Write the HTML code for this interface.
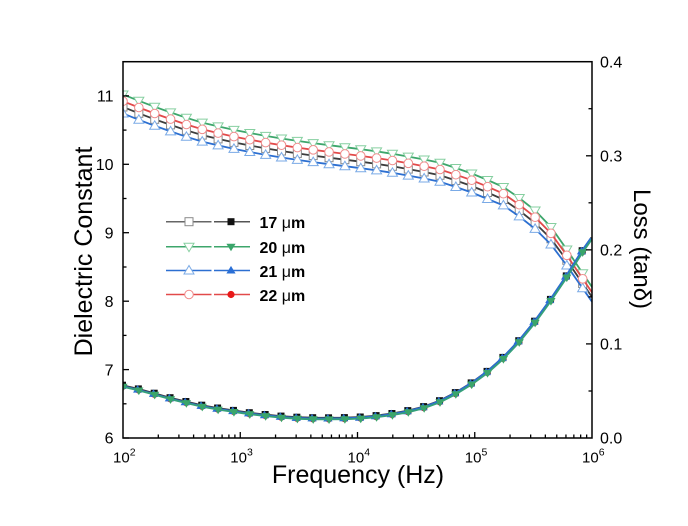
<!DOCTYPE html>
<html>
<head>
<meta charset="utf-8">
<style>
  html, body { margin:0; padding:0; background:#ffffff; }
  svg { display:block; }
  text { font-family: "Liberation Sans", Arial, sans-serif; fill:#000; }
</style>
</head>
<body>
<svg width="688" height="526" viewBox="0 0 688 526" xmlns="http://www.w3.org/2000/svg">
  <defs>
    <clipPath id="plot"><rect x="123" y="61.7" width="469" height="376.3"/></clipPath>
    <!-- open markers -->
    <marker id="oSq" markerUnits="userSpaceOnUse" markerWidth="20" markerHeight="20" refX="0" refY="0" viewBox="-10 -10 20 20" overflow="visible">
      <rect x="-4" y="-4" width="8" height="8" fill="#fff" stroke="#8a8a8a" stroke-width="1"/>
    </marker>
    <marker id="oDn" markerUnits="userSpaceOnUse" markerWidth="20" markerHeight="20" refX="0" refY="0" viewBox="-10 -10 20 20" overflow="visible">
      <polygon points="-5,-3.5 5,-3.5 0,5" fill="#fff" stroke="#86cfa0" stroke-width="1"/>
    </marker>
    <marker id="oUp" markerUnits="userSpaceOnUse" markerWidth="20" markerHeight="20" refX="0" refY="0" viewBox="-10 -10 20 20" overflow="visible">
      <polygon points="-5,3.5 5,3.5 0,-5" fill="#fff" stroke="#7aaae6" stroke-width="1"/>
    </marker>
    <marker id="oCi" markerUnits="userSpaceOnUse" markerWidth="20" markerHeight="20" refX="0" refY="0" viewBox="-10 -10 20 20" overflow="visible">
      <circle cx="0" cy="0" r="4.3" fill="#fff" stroke="#f08c8c" stroke-width="1"/>
    </marker>
    <!-- filled markers -->
    <marker id="fSq" markerUnits="userSpaceOnUse" markerWidth="20" markerHeight="20" refX="0" refY="0" viewBox="-10 -10 20 20" overflow="visible">
      <rect x="-3.5" y="-3.5" width="7" height="7" fill="#111"/>
    </marker>
    <marker id="fDn" markerUnits="userSpaceOnUse" markerWidth="20" markerHeight="20" refX="0" refY="0" viewBox="-10 -10 20 20" overflow="visible">
      <polygon points="-4.6,-3 4.6,-3 0,4.6" fill="#3aa56a"/>
    </marker>
    <marker id="fUp" markerUnits="userSpaceOnUse" markerWidth="20" markerHeight="20" refX="0" refY="0" viewBox="-10 -10 20 20" overflow="visible">
      <polygon points="-4.6,3 4.6,3 0,-4.6" fill="#2a6fd6"/>
    </marker>
    <marker id="fCi" markerUnits="userSpaceOnUse" markerWidth="20" markerHeight="20" refX="0" refY="0" viewBox="-10 -10 20 20" overflow="visible">
      <circle cx="0" cy="0" r="3.6" fill="#e81818"/>
    </marker>
  </defs>

  <g clip-path="url(#plot)" fill="none" stroke-width="1.8">
    <!-- Dielectric constant curves -->
    <polyline stroke="#3c3c3c" marker-start="url(#oSq)" marker-mid="url(#oSq)"
      points="123,107 138.85,113.3 154.7,119.3 170.55,124.9 186.4,130.3 202.25,135.1 218.1,138.9 233.95,142.4 249.8,145.5 265.65,148.4 281.5,151 297.35,153.4 313.2,155.6 329.05,157.7 344.9,159.7 360.75,161.7 376.6,163.9 392.45,166.3 408.3,169.1 424.15,172 440,175.3 455.85,180.5 471.7,186 487.55,192.5 503.4,199.5 519.25,210.5 535.1,223 550.95,238.8 566.8,260.3 582.65,283.5 592,297"/>
    <polyline stroke="#3da66b" marker-start="url(#oDn)" marker-mid="url(#oDn)"
      points="123,94.5 138.85,100.8 154.7,106.8 170.55,112.4 186.4,117.8 202.25,122.6 218.1,126.4 233.95,129.9 249.8,133 265.65,135.9 281.5,138.5 297.35,140.9 313.2,143.1 329.05,145.2 344.9,147.2 360.75,149.2 376.6,151.4 392.45,153.8 408.3,156.6 424.15,159.5 440,162.8 455.85,168 471.7,173.5 487.55,180 503.4,187 519.25,198 535.1,210.5 550.95,227 566.8,249.5 582.65,273.3 592,287"/>
    <polyline stroke="#2c6fd1" marker-start="url(#oUp)" marker-mid="url(#oUp)"
      points="123,113.5 138.85,119.8 154.7,125.8 170.55,131.4 186.4,136.8 202.25,141.6 218.1,145.4 233.95,148.9 249.8,152 265.65,154.9 281.5,157.5 297.35,159.9 313.2,162.1 329.05,164.2 344.9,166.2 360.75,168.2 376.6,170.4 392.45,172.8 408.3,175.6 424.15,178.5 440,181.8 455.85,187 471.7,192.5 487.55,199 503.4,205.4 519.25,216.4 535.1,228.9 550.95,244.5 566.8,265.5 582.65,288.3 592,301.7"/>
    <polyline stroke="#e24a4a" marker-start="url(#oCi)" marker-mid="url(#oCi)"
      points="123,101.2 138.85,107.5 154.7,113.5 170.55,119.1 186.4,124.5 202.25,129.3 218.1,133.1 233.95,136.6 249.8,139.7 265.65,142.6 281.5,145.2 297.35,147.6 313.2,149.8 329.05,151.9 344.9,153.9 360.75,155.9 376.6,158.1 392.45,160.5 408.3,163.3 424.15,166.2 440,169.5 455.85,174.7 471.7,180.2 487.55,186.7 503.4,193.7 519.25,204.7 535.1,217.2 550.95,233.3 566.8,255.3 582.65,278.8 592,292.4"/>

    <!-- Loss curves -->
    <polyline stroke="#e24a4a" marker-start="url(#fCi)" marker-mid="url(#fCi)" transform="translate(-0.3,-0.5)"
      points="123,386.8 138.85,390.5 154.7,394.8 170.55,399.3 186.4,403.1 202.25,406.8 218.1,409.6 233.95,412 249.8,414.3 265.65,416.1 281.5,417.7 297.35,418.8 313.2,419.3 329.05,419.4 344.9,419.2 360.75,418.6 376.6,417.2 392.45,415.1 408.3,412.2 424.15,408.2 440,402.3 455.85,394.2 471.7,384.5 487.55,373 503.4,359 519.25,342.3 535.1,322.8 550.95,301 566.8,277.5 582.65,252.3 592,239"/>
    <polyline stroke="#3c3c3c" marker-start="url(#fSq)" marker-mid="url(#fSq)" transform="translate(-0.5,-1.6)"
      points="123,386.8 138.85,390.5 154.7,394.8 170.55,399.3 186.4,403.1 202.25,406.8 218.1,409.6 233.95,412 249.8,414.3 265.65,416.1 281.5,417.7 297.35,418.8 313.2,419.3 329.05,419.4 344.9,419.2 360.75,418.6 376.6,417.2 392.45,415.1 408.3,412.2 424.15,408.2 440,402.3 455.85,394.2 471.7,384.5 487.55,373 503.4,359 519.25,342.3 535.1,322.8 550.95,301 566.8,277.5 582.65,252.3 592,239"/>
    <polyline stroke="#2c6fd1" marker-start="url(#fUp)" marker-mid="url(#fUp)" transform="translate(-1.2,-0.9)"
      points="123,386.8 138.85,390.5 154.7,394.8 170.55,399.3 186.4,403.1 202.25,406.8 218.1,409.6 233.95,412 249.8,414.3 265.65,416.1 281.5,417.7 297.35,418.8 313.2,419.3 329.05,419.4 344.9,419.2 360.75,418.6 376.6,417.2 392.45,415.1 408.3,412.2 424.15,408.2 440,402.3 455.85,394.2 471.7,384.5 487.55,373 503.4,359 519.25,342.3 535.1,322.8 550.95,301 566.8,277.5 582.65,252.3 592,239"/>
    <polyline stroke="#35a07a" marker-start="url(#fDn)" marker-mid="url(#fDn)"
      points="123,386.8 138.85,390.5 154.7,394.8 170.55,399.3 186.4,403.1 202.25,406.8 218.1,409.6 233.95,412 249.8,414.3 265.65,416.1 281.5,417.7 297.35,418.8 313.2,419.3 329.05,419.4 344.9,419.2 360.75,418.6 376.6,417.2 392.45,415.1 408.3,412.2 424.15,408.2 440,402.3 455.85,394.2 471.7,384.5 487.55,373 503.4,359 519.25,342.3 535.1,322.8 550.95,301 566.8,277.5 582.65,252.3 592,239"/>
  </g>

  <!-- Frame -->
  <rect x="123" y="61.7" width="469" height="376.3" fill="none" stroke="#000" stroke-width="1.5"/>

  <!-- Ticks -->
  <g stroke="#000" stroke-width="1.3">
    <!-- left major -->
    <line x1="123" y1="438" x2="129" y2="438"/>
    <line x1="123" y1="369.6" x2="129" y2="369.6"/>
    <line x1="123" y1="301.2" x2="129" y2="301.2"/>
    <line x1="123" y1="232.7" x2="129" y2="232.7"/>
    <line x1="123" y1="164.3" x2="129" y2="164.3"/>
    <line x1="123" y1="95.9" x2="129" y2="95.9"/>
    <!-- left minor -->
    <line x1="123" y1="403.8" x2="126.5" y2="403.8"/>
    <line x1="123" y1="335.4" x2="126.5" y2="335.4"/>
    <line x1="123" y1="267" x2="126.5" y2="267"/>
    <line x1="123" y1="198.5" x2="126.5" y2="198.5"/>
    <line x1="123" y1="130.1" x2="126.5" y2="130.1"/>
    <!-- right major -->
    <line x1="592" y1="343.9" x2="586" y2="343.9"/>
    <line x1="592" y1="249.85" x2="586" y2="249.85"/>
    <line x1="592" y1="155.8" x2="586" y2="155.8"/>
    <!-- right minor -->
    <line x1="592" y1="391" x2="588.5" y2="391"/>
    <line x1="592" y1="296.9" x2="588.5" y2="296.9"/>
    <line x1="592" y1="202.8" x2="588.5" y2="202.8"/>
    <line x1="592" y1="108.7" x2="588.5" y2="108.7"/>
    <!-- bottom major -->
    <line x1="240.25" y1="438" x2="240.25" y2="432"/>
    <line x1="357.5" y1="438" x2="357.5" y2="432"/>
    <line x1="474.75" y1="438" x2="474.75" y2="432"/>
    <!-- bottom minor: decade 1 -->
    <line x1="158.3" y1="438" x2="158.3" y2="434.5"/>
    <line x1="178.9" y1="438" x2="178.9" y2="434.5"/>
    <line x1="193.6" y1="438" x2="193.6" y2="434.5"/>
    <line x1="205" y1="438" x2="205" y2="434.5"/>
    <line x1="214.2" y1="438" x2="214.2" y2="434.5"/>
    <line x1="222.1" y1="438" x2="222.1" y2="434.5"/>
    <line x1="228.9" y1="438" x2="228.9" y2="434.5"/>
    <line x1="234.9" y1="438" x2="234.9" y2="434.5"/>
    <!-- decade 2 -->
    <line x1="275.55" y1="438" x2="275.55" y2="434.5"/>
    <line x1="296.15" y1="438" x2="296.15" y2="434.5"/>
    <line x1="310.85" y1="438" x2="310.85" y2="434.5"/>
    <line x1="322.25" y1="438" x2="322.25" y2="434.5"/>
    <line x1="331.45" y1="438" x2="331.45" y2="434.5"/>
    <line x1="339.35" y1="438" x2="339.35" y2="434.5"/>
    <line x1="346.15" y1="438" x2="346.15" y2="434.5"/>
    <line x1="352.15" y1="438" x2="352.15" y2="434.5"/>
    <!-- decade 3 -->
    <line x1="392.8" y1="438" x2="392.8" y2="434.5"/>
    <line x1="413.4" y1="438" x2="413.4" y2="434.5"/>
    <line x1="428.1" y1="438" x2="428.1" y2="434.5"/>
    <line x1="439.5" y1="438" x2="439.5" y2="434.5"/>
    <line x1="448.7" y1="438" x2="448.7" y2="434.5"/>
    <line x1="456.6" y1="438" x2="456.6" y2="434.5"/>
    <line x1="463.4" y1="438" x2="463.4" y2="434.5"/>
    <line x1="469.4" y1="438" x2="469.4" y2="434.5"/>
    <!-- decade 4 -->
    <line x1="510.05" y1="438" x2="510.05" y2="434.5"/>
    <line x1="530.65" y1="438" x2="530.65" y2="434.5"/>
    <line x1="545.35" y1="438" x2="545.35" y2="434.5"/>
    <line x1="556.75" y1="438" x2="556.75" y2="434.5"/>
    <line x1="565.95" y1="438" x2="565.95" y2="434.5"/>
    <line x1="573.85" y1="438" x2="573.85" y2="434.5"/>
    <line x1="580.65" y1="438" x2="580.65" y2="434.5"/>
    <line x1="586.65" y1="438" x2="586.65" y2="434.5"/>
  </g>

  <!-- Left tick labels -->
  <g font-size="16" text-anchor="end">
    <text x="113.5" y="443.7">6</text>
    <text x="113.5" y="375.3">7</text>
    <text x="113.5" y="306.9">8</text>
    <text x="113.5" y="238.4">9</text>
    <text x="113.5" y="170">10</text>
    <text x="113.5" y="101.4">11</text>
  </g>
  <!-- Right tick labels -->
  <g font-size="16" text-anchor="start">
    <text x="600" y="443.7">0.0</text>
    <text x="600" y="349.6">0.1</text>
    <text x="600" y="255.5">0.2</text>
    <text x="600" y="161.5">0.3</text>
    <text x="600" y="67.4">0.4</text>
  </g>
  <!-- Bottom tick labels -->
  <g font-size="15">
    <text x="113" y="462.5">10<tspan dy="-7" font-size="10.5">2</tspan></text>
    <text x="230.25" y="462.5">10<tspan dy="-7" font-size="10.5">3</tspan></text>
    <text x="347.5" y="462.5">10<tspan dy="-7" font-size="10.5">4</tspan></text>
    <text x="464.75" y="462.5">10<tspan dy="-7" font-size="10.5">5</tspan></text>
    <text x="582" y="462.5">10<tspan dy="-7" font-size="10.5">6</tspan></text>
  </g>

  <!-- Axis titles -->
  <text x="358" y="483" font-size="25" text-anchor="middle">Frequency (Hz)</text>
  <text transform="translate(92,251.5) rotate(-90)" font-size="25" text-anchor="middle">Dielectric Constant</text>
  <text transform="translate(634,249) rotate(90)" font-size="24" text-anchor="middle">Loss (tanδ)</text>

  <!-- Legend -->
  <g fill="none" stroke-width="1.5">
    <line x1="166" y1="221.7" x2="211.5" y2="221.7" stroke="#666"/>
    <line x1="214" y1="221.7" x2="250" y2="221.7" stroke="#555"/>
    <line x1="166" y1="246.7" x2="211.5" y2="246.7" stroke="#3da66b"/>
    <line x1="214" y1="246.7" x2="250" y2="246.7" stroke="#3da66b"/>
    <line x1="166" y1="270.5" x2="211.5" y2="270.5" stroke="#2c6fd1"/>
    <line x1="214" y1="270.5" x2="250" y2="270.5" stroke="#2c6fd1"/>
    <line x1="166" y1="294.5" x2="211.5" y2="294.5" stroke="#e24a4a"/>
    <line x1="214" y1="294.5" x2="250" y2="294.5" stroke="#e24a4a"/>
  </g>
  <!-- legend open markers -->
  <rect x="185" y="217.7" width="8" height="8" fill="#fff" stroke="#8a8a8a" stroke-width="1"/>
  <polygon points="184,243.2 194,243.2 189,251.7" fill="#fff" stroke="#86cfa0" stroke-width="1"/>
  <polygon points="184,274 194,274 189,265.5" fill="#fff" stroke="#7aaae6" stroke-width="1"/>
  <circle cx="189" cy="294.5" r="4.3" fill="#fff" stroke="#f08c8c" stroke-width="1"/>
  <!-- legend filled markers -->
  <rect x="227.5" y="218.2" width="7" height="7" fill="#111"/>
  <polygon points="226.4,243.7 235.6,243.7 231,251.3" fill="#3aa56a"/>
  <polygon points="226.4,273.5 235.6,273.5 231,265.9" fill="#2a6fd6"/>
  <circle cx="231" cy="294.5" r="3.6" fill="#e81818"/>
  <!-- legend text -->
  <g font-size="16" font-weight="bold">
    <text x="259.5" y="228.2">17 <tspan font-weight="normal">μ</tspan>m</text>
    <text x="259.5" y="253.2">20 <tspan font-weight="normal">μ</tspan>m</text>
    <text x="259.5" y="277">21 <tspan font-weight="normal">μ</tspan>m</text>
    <text x="259.5" y="301">22 <tspan font-weight="normal">μ</tspan>m</text>
  </g>
</svg>
</body>
</html>
